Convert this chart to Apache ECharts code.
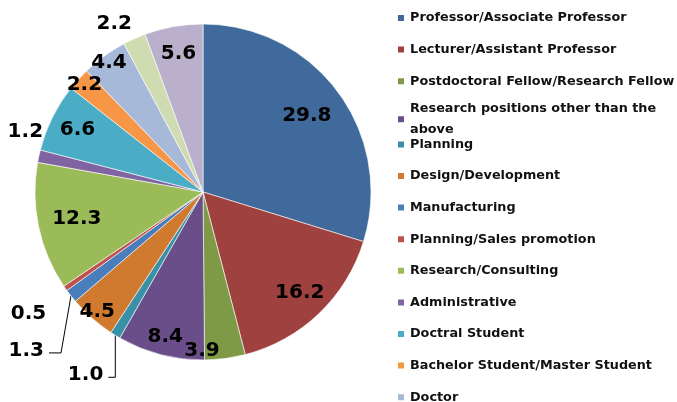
<!DOCTYPE html>
<html>
<head>
<meta charset="utf-8">
<script src="https://cdn.jsdelivr.net/npm/echarts@6/dist/echarts.min.js"></script>
<style>
html,body{margin:0;padding:0;background:#fff;}
#chart{width:677px;height:402px;}
</style>
</head>
<body>
<div id="chart"></div>
<script>
// ---- data ----
const categories = [
  'Professor/Associate Professor',
  'Lecturer/Assistant Professor',
  'Postdoctoral Fellow/Research Fellow',
  'Research positions other than the above',
  'Planning',
  'Design/Development',
  'Manufacturing',
  'Planning/Sales promotion',
  'Research/Consulting',
  'Administrative',
  'Doctral Student',
  'Bachelor Student/Master Student',
  'Doctor',
  'Other',
  'No answer'
];
const values = [29.8, 16.2, 3.9, 8.4, 1.0, 4.5, 1.3, 0.5, 12.3, 1.2, 6.6, 2.2, 4.4, 2.2, 5.6];
const colors = ['#3F6A9B', '#9F413E', '#7F9A47', '#6A4E89', '#3A90A6', '#D07A30',
                '#4A7EBB', '#C0504D', '#9BBB59', '#8064A2', '#4BACC6', '#F79646',
                '#A7B9D9', '#CFDCB2', '#BAB0CB'];

// ---- label layout (style, not data) ----
const CENTER = [203, 192];
const R = 168;
// distance of each data label from the pie centre (px); leader-line labels handled separately
const labelRadius = {0: 126, 1: 137, 2: 157, 3: 147, 5: 157, 7: 210, 8: 126, 9: 185,
                     10: 137, 11: 157, 12: 157, 13: 185, 14: 137};
const labelNudge = {2: [-22, 0], 9: [6, -20], 13: [-12, 3]};
// leader labels: [gap from edge point to label right side, drop below edge point, bend x]
const leaderLabels = {4: [12, 40, 0], 6: [27, 55, 10]};

const labelFont = {fontFamily: 'DejaVu Sans', fontWeight: 'bold', fontSize: 20, color: '#000'};
function fmt(p) { return Number(p.value).toFixed(1); }

function labelRing(rad) {
  const show = Object.keys(labelRadius).filter(k => labelRadius[k] === rad).map(Number);
  const radius = rad < R ? [2 * rad - R, R] : [rad - 15, rad + 15];
  return {
    type: 'pie',
    center: CENTER,
    radius: radius,
    startAngle: 90,
    clockwise: true,
    silent: true,
    avoidLabelOverlap: false,
    itemStyle: {color: 'rgba(0,0,0,0)', borderWidth: 0},
    emphasis: {disabled: true},
    labelLine: {show: false},
    data: values.map((v, i) => ({
      value: v,
      label: Object.assign({show: show.indexOf(i) >= 0, position: 'inside', formatter: fmt}, labelFont)
    })),
    labelLayout: function (p) {
      const n = labelNudge[p.dataIndex];
      if (!n) return {};
      const r = p.labelRect;
      return {x: r.x + r.width / 2 + n[0], y: r.y + r.height / 2 + n[1]};
    }
  };
}
const ringRadii = Array.from(new Set(Object.values(labelRadius)));

const legendText = {
  fontFamily: 'DejaVu Sans',
  fontWeight: 'bold',
  fontSize: 12.8,
  color: '#111',
  width: 275,
  overflow: 'break',
  lineHeight: 21,
  height: 21
};
function legendBlock(names, top) {
  return {
    orient: 'vertical',
    left: 396,
    top: top,
    height: 700,
    padding: 0,
    itemWidth: 8,
    itemHeight: 8,
    itemGap: 10.6,
    icon: 'rect',
    selectedMode: false,
    data: names,
    textStyle: legendText
  };
}

const chart = echarts.init(document.getElementById('chart'), null, {renderer: 'canvas'});
chart.setOption({
  animation: false,
  backgroundColor: '#fff',
  legend: [
    legendBlock(categories.slice(0, 4), 7.5),
    legendBlock(categories.slice(4), 7.5 + 4 * 31.6)
  ],
  series: [
    {
      type: 'pie',
      center: CENTER,
      radius: R,
      startAngle: 90,
      clockwise: true,
      avoidLabelOverlap: false,
      itemStyle: {borderColor: '#fff', borderWidth: 0.6},
      emphasis: {disabled: true},
      data: values.map((v, i) => ({
        name: categories[i],
        value: v,
        itemStyle: {color: colors[i]},
        label: Object.assign({show: !!leaderLabels[i], position: 'outside', formatter: fmt}, labelFont),
        labelLine: {show: !!leaderLabels[i], length: 30, length2: 8,
                    lineStyle: {color: '#000', width: 1}}
      })),
      labelLayout: function (p) {
        const cfg = leaderLabels[p.dataIndex];
        if (!cfg || !p.labelLinePoints) return {};
        const edge = p.labelLinePoints[0];
        const x = edge[0] - cfg[0];
        const y = edge[1] + cfg[1];
        return {
          x: x,
          y: y,
          align: 'right',
          verticalAlign: 'middle',
          labelLinePoints: [
            [edge[0], edge[1]],
            [edge[0] - cfg[2], y + 2],
            [x + 5, y + 2]
          ]
        };
      }
    }
  ].concat(ringRadii.map(labelRing))
});
</script>
</body>
</html>
